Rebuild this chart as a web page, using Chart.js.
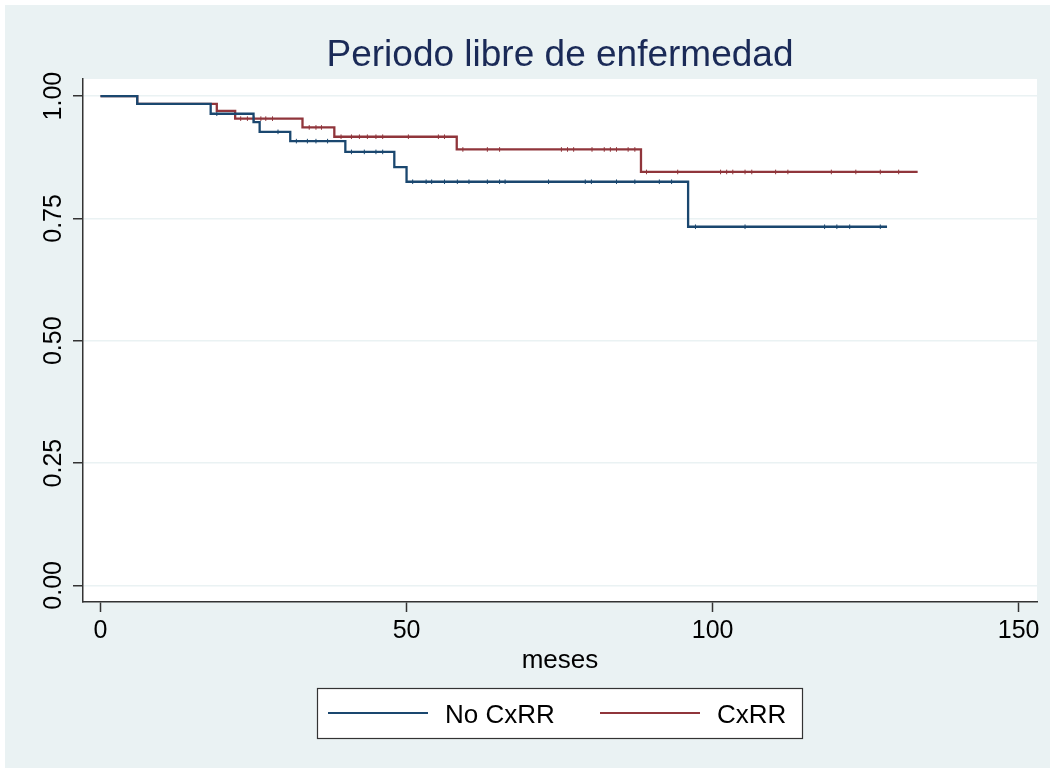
<!DOCTYPE html>
<html>
<head>
<meta charset="utf-8">
<script src="https://cdn.jsdelivr.net/npm/chart.js@4/dist/chart.umd.min.js"></script>
<style>
  html, body { margin: 0; padding: 0; background: #ffffff; }
  #c { display: block; }
</style>
</head>
<body>
<canvas id="c" width="1052" height="770"></canvas>
<script>
// ---- Data ----
const chartTitle = "Periodo libre de enfermedad";
const xAxisTitle = "meses";
const seriesLabels = ["No CxRR", "CxRR"];

// Kaplan-Meier step points: time (months) and survival from that time on
const noTimes = [0, 6, 18, 25, 26, 31, 40, 48, 50, 96, 128.5];
const noSurv  = [1, 0.984, 0.964, 0.947, 0.927, 0.908, 0.886, 0.855, 0.825, 0.733, 0.733];

const cxTimes = [0, 6, 19, 22, 33, 38.2, 58.2, 88.3, 133.5];
const cxSurv  = [1, 0.984, 0.970, 0.954, 0.936, 0.917, 0.891, 0.845, 0.845];

// Censored observations (months)
const noCensored = [19, 29, 32, 33.8, 35.2, 37.1, 41, 43.1, 45, 46.1, 51, 53.2, 54.1, 56.2, 58.3,
  60.2, 63.2, 65.2, 66.1, 73.2, 79.2, 80.2, 84.3, 87.3, 91.3, 93.3, 97.2, 105.3, 118.3, 120.3,
  122.4, 127.4];
const cxCensored = [22.9, 24, 25.1, 26.2, 27, 28.1, 34.1, 35.2, 36.1, 39.3, 41, 42.3, 43.6, 45,
  46.1, 50.3, 55.2, 56.2, 59.2, 63.2, 65.2, 75.3, 76.3, 77.3, 80.3, 82.3, 83.3, 84.3, 86.2, 87.3,
  89.2, 94.3, 101.3, 102.3, 103.3, 105.3, 106.4, 110.3, 112.3, 119.4, 123.4, 127.4, 130.4];

const xTickValues = [0, 50, 100, 150];
const yTickValues = [0, 0.25, 0.5, 0.75, 1];

// ---- Styling ----
const NAVY = "#1A476F";
const MAROON = "#90353B";
const BG = "#EAF2F3";
const AXIS = "#333333";
const FONT = "'Liberation Sans', Arial, Helvetica, sans-serif";

function stepPoints(times, surv) {
  return times.map((t, i) => ({ x: t, y: surv[i] }));
}
function survAt(times, surv, t) {
  let s = surv[0];
  for (let i = 0; i < times.length; i++) { if (times[i] <= t) s = surv[i]; }
  return s;
}
function censorPoints(cens, times, surv) {
  return cens.map(t => ({ x: t, y: survAt(times, surv, t) }));
}

const decorPlugin = {
  id: "decor",
  beforeDraw(chart) {
    const ctx = chart.ctx;
    const a = chart.chartArea;
    ctx.save();
    ctx.fillStyle = "#ffffff";
    ctx.fillRect(0, 0, chart.width, chart.height);
    ctx.fillStyle = BG;
    ctx.fillRect(5, 5, chart.width - 7, chart.height - 7);
    ctx.fillStyle = "#ffffff";
    ctx.fillRect(a.left, a.top, a.right - a.left, a.bottom - a.top);
    ctx.restore();
  },
  afterDraw(chart) {
    const ctx = chart.ctx;
    const a = chart.chartArea;
    const cx = (a.left + a.right) / 2;
    ctx.save();
    // Title
    ctx.fillStyle = "#1A2A57";
    ctx.font = "37px " + FONT;
    ctx.textAlign = "center";
    ctx.textBaseline = "alphabetic";
    ctx.fillText(chartTitle, cx, 66);
    // X axis title
    ctx.fillStyle = "#000000";
    ctx.font = "26px " + FONT;
    ctx.fillText(xAxisTitle, cx, 668);
    // Legend box
    const lx = 317, ly = 688, lw = 485, lh = 50;
    ctx.fillStyle = "#ffffff";
    ctx.fillRect(lx, ly, lw, lh);
    ctx.strokeStyle = AXIS;
    ctx.lineWidth = 1.2;
    ctx.strokeRect(lx + 0.5, ly + 0.5, lw, lh);
    const items = [
      { color: NAVY, label: seriesLabels[0], x1: 328, x2: 428, tx: 445 },
      { color: MAROON, label: seriesLabels[1], x1: 600, x2: 700, tx: 717 }
    ];
    items.forEach(it => {
      ctx.strokeStyle = it.color;
      ctx.lineWidth = 2.2;
      ctx.beginPath();
      ctx.moveTo(it.x1, 713);
      ctx.lineTo(it.x2, 713);
      ctx.stroke();
      ctx.fillStyle = "#000000";
      ctx.font = "26px " + FONT;
      ctx.textAlign = "left";
      ctx.fillText(it.label, it.tx, 723);
    });
    ctx.restore();
  }
};

new Chart(document.getElementById("c"), {
  type: "line",
  data: {
    datasets: [
      {
        label: seriesLabels[0],
        data: stepPoints(noTimes, noSurv),
        borderColor: NAVY, borderWidth: 2.3, stepped: "before",
        pointRadius: 0, fill: false
      },
      {
        label: seriesLabels[1],
        data: stepPoints(cxTimes, cxSurv),
        borderColor: MAROON, borderWidth: 2.3, stepped: "before",
        pointRadius: 0, fill: false
      },
      {
        label: seriesLabels[0] + " censored",
        data: censorPoints(noCensored, noTimes, noSurv),
        showLine: false, pointStyle: "line", pointRotation: 90,
        pointRadius: 2.3, pointBorderWidth: 1, borderColor: NAVY, backgroundColor: NAVY
      },
      {
        label: seriesLabels[1] + " censored",
        data: censorPoints(cxCensored, cxTimes, cxSurv),
        showLine: false, pointStyle: "line", pointRotation: 90,
        pointRadius: 2.3, pointBorderWidth: 1, borderColor: MAROON, backgroundColor: MAROON
      }
    ]
  },
  options: {
    responsive: false,
    animation: false,
    events: [],
    layout: { padding: { left: 0, top: 79, right: 15, bottom: 0 } },
    plugins: {
      legend: { display: false },
      title: { display: false },
      tooltip: { enabled: false }
    },
    scales: {
      x: {
        type: "linear",
        min: -2.86, max: 153,
        afterBuildTicks: s => { s.ticks = xTickValues.map(v => ({ value: v })); },
        afterFit: s => { s.height = 168; },
        ticks: {
          font: { family: FONT, size: 25 }, color: "#000000", padding: 4,
          maxRotation: 0, minRotation: 0,
          callback: v => String(v)
        },
        grid: { drawOnChartArea: false, drawTicks: true, tickLength: 10, tickColor: AXIS, tickWidth: 1.5 },
        border: { display: true, color: AXIS, width: 1.5 }
      },
      y: {
        type: "linear",
        min: -0.034, max: 1.035,
        afterBuildTicks: s => { s.ticks = yTickValues.map(v => ({ value: v })); },
        afterFit: s => { s.width = 83; },
        ticks: {
          font: { family: FONT, size: 25 }, color: "#000000",
          minRotation: 90, maxRotation: 90, crossAlign: "center", padding: -5,
          callback: v => Number(v).toFixed(2)
        },
        grid: { color: BG, lineWidth: 1.5, drawTicks: true, tickLength: 10, tickColor: AXIS, tickWidth: 1.5 },
        border: { display: true, color: AXIS, width: 1.5 }
      }
    }
  },
  plugins: [decorPlugin]
});
</script>
</body>
</html>
